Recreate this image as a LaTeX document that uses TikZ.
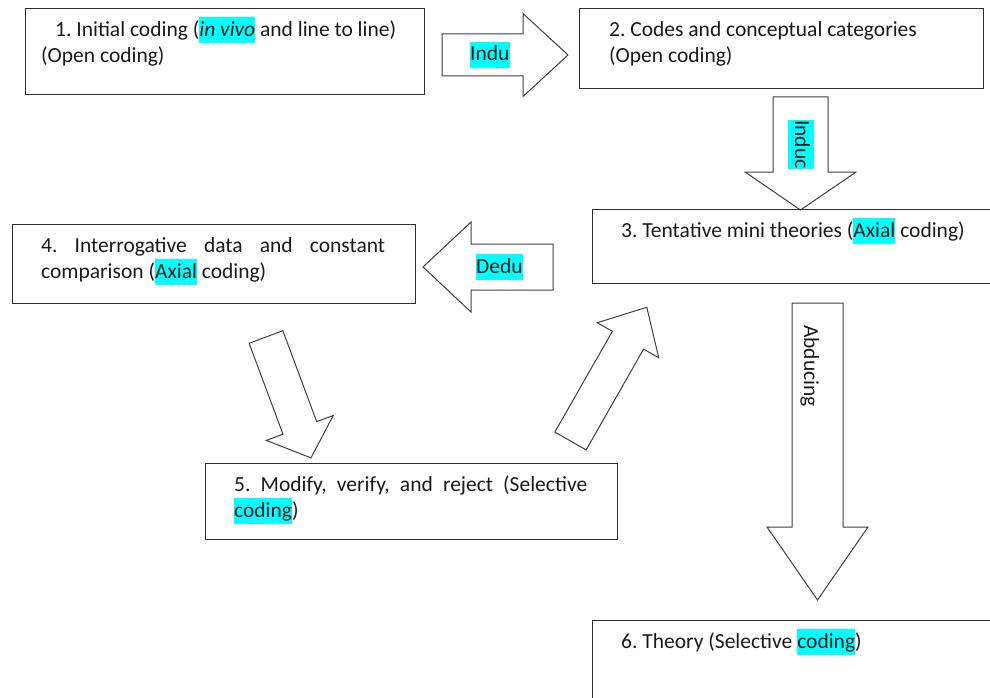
\documentclass[tikz,border=0pt]{standalone}
\usepackage{fontspec}
\setmainfont{Carlito}
\usepackage{tikz}
\usetikzlibrary{positioning}
\frenchspacing
\definecolor{hlcyan}{RGB}{0,255,255}
\definecolor{inkgray}{RGB}{45,45,45}
% highlighted words
\newcommand{\hlt}[1]{{\setlength{\fboxsep}{0pt}\colorbox{hlcyan}{\rule[-7pt]{0pt}{26pt}#1}}}
% block arrow: tail, angle, length, shaft half, head half, head length
\newcommand{\fatarrow}[6]{%
  \begin{scope}[shift={#1}, rotate=#2]
    \draw[bigarrow] (0,-#4) -- (#3-#6,-#4) -- (#3-#6,-#5) -- (#3,0)
      -- (#3-#6,#5) -- (#3-#6,#4) -- (0,#4) -- cycle;
  \end{scope}}
\tikzset{
    stage/.style={
           rectangle,
           draw=inkgray,
           line width=1pt,
           anchor=north west,
           inner sep=0pt},
    stagetext/.style={
           anchor=north west,
           inner sep=0pt,
           align=left,
           text=black!90,
           font=\fontsize{21.5}{26}\selectfont},
    % Define block arrow style
    bigarrow/.style={
           draw=black!75,
           line width=1pt,
           fill=white,
           miter limit=20},
    arrowtext/.style={
           inner sep=0pt,
           anchor=base west,
           text=black!90,
           font=\fontsize{21.5}{26}\selectfont}
}

\begin{document}
\begin{tikzpicture}[x=1pt, y=1pt, node distance=9pt and 29pt]
	\useasboundingbox (0,0) rectangle (990,-698);

	\fatarrow{(442,-55)}{0}{126}{21}{41.5}{45}
	\fatarrow{(800.5,-97)}{-90}{113}{27.5}{55.5}{38}
	\fatarrow{(553,-267)}{180}{130}{23}{45}{48}
	\fatarrow{(817.5,-303)}{-90}{297}{25.5}{50.5}{73}
	\fatarrow{(266,-337)}{-69.6}{129}{18}{35.7}{32}
	\fatarrow{(570.5,-441)}{60.3}{154}{18}{35.4}{38}

	\node[arrowtext] (indu) at (470,-61) {\hlt{Indu}};
	\node[arrowtext, rotate=-90] (induc) at (795,-120) {\hlt{Induc}};
	\node[arrowtext] (dedu) at (476,-273) {\hlt{Dedu}};
	\node[arrowtext, rotate=-90] (abduc) at (804,-325) {Abducing};

	\node[stage, minimum width=399, minimum height=86] (initial) at (25,-8) {};
	\node[stage, minimum width=404, minimum height=80] (codes) at (579,-8) {};
	\node[stage, minimum width=410, minimum height=74] (mini) at (592,-209) {};
	\node[stage, minimum width=403, minimum height=79] (interrog) at (12,-224) {};
	\node[stage, minimum width=412, minimum height=76] (modify) at (205,-463) {};
	\node[stage, minimum width=410, minimum height=90] (theory) at (592,-620) {};

	\node[stagetext, below right=9pt and 16pt of initial.north west] (initialtxt)
		{\rule{0pt}{19pt}\hspace*{14pt}1. Initial coding (\hlt{\textit{in vivo}} and line to line)\\(Open coding)};
	\node[stagetext, below right=9pt and 30pt of codes.north west] (codestxt)
		{\rule{0pt}{19pt}2. Codes and conceptual categories\\(Open coding)};
	\node[stagetext, below right=of mini.north west] (minitxt)
		{\rule{0pt}{19pt}3. Tentative mini theories (\hlt{Axial} coding)};
	\node[stagetext, below right=of interrog.north west, text width=344pt, align=justify] (interrogtxt)
		{\rule{0pt}{19pt}4. Interrogative data and constant\linebreak comparison (\hlt{Axial} coding)};
	\node[stagetext, below right=of modify.north west, text width=353pt, align=justify] (modifytxt)
		{\rule{0pt}{19pt}5. Modify, verify, and reject (Selective\linebreak \hlt{coding})};
	\node[stagetext, below right=of theory.north west] (theorytxt)
		{\rule{0pt}{19pt}6. Theory (Selective \hlt{coding})};
\end{tikzpicture}
\end{document}
